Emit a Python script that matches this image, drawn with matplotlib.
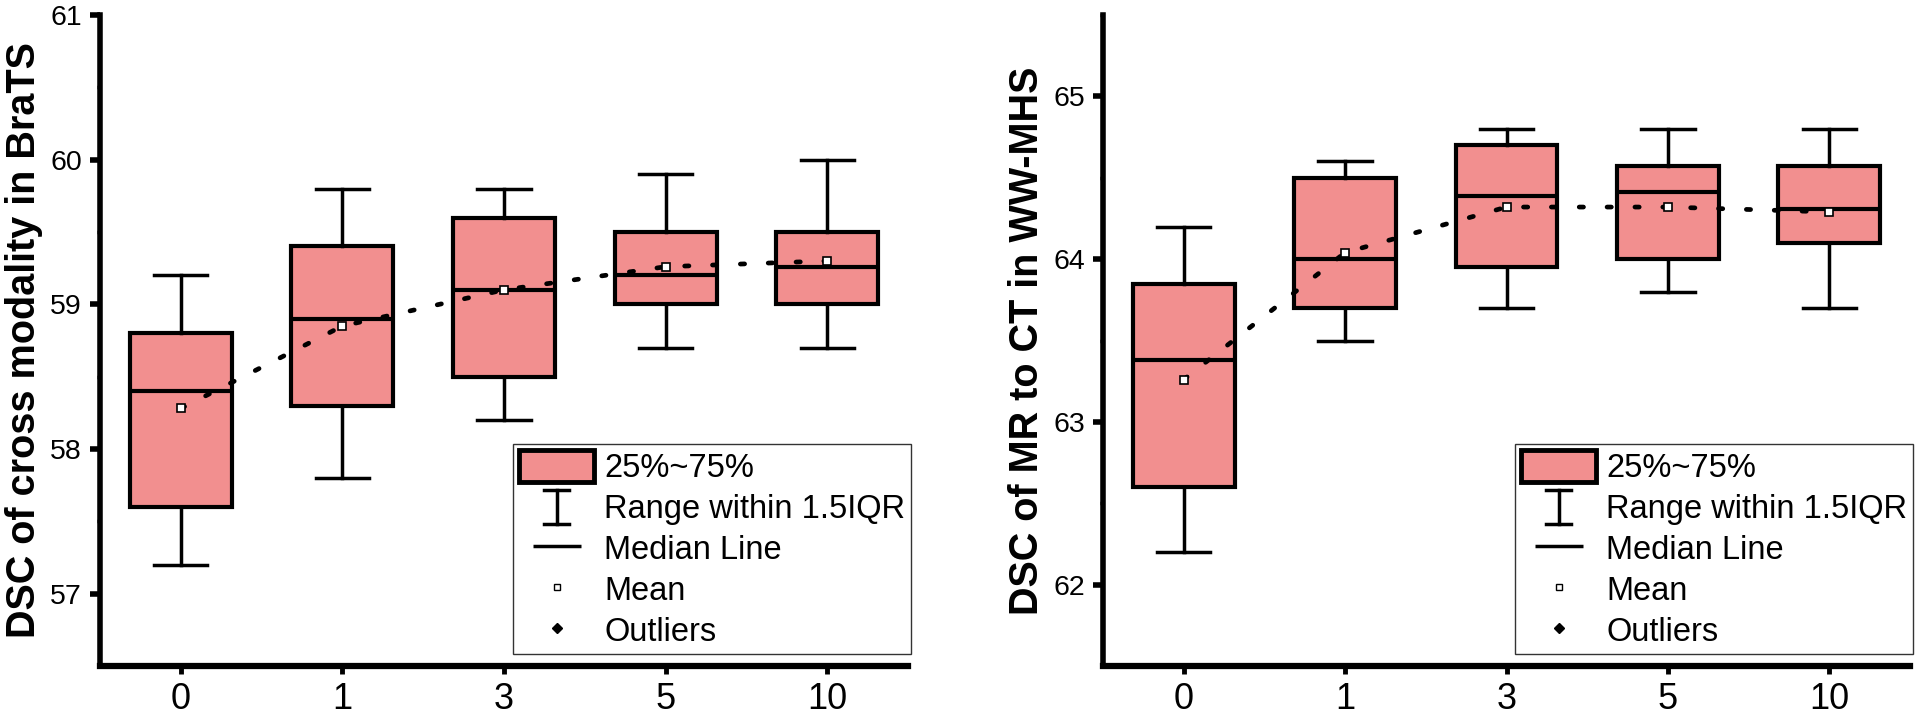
import numpy as np
import matplotlib
matplotlib.use("Agg")
import matplotlib.pyplot as plt
from matplotlib.patches import Patch
from matplotlib.lines import Line2D
from matplotlib.legend_handler import HandlerBase
from matplotlib.ticker import MultipleLocator

plt.rcParams["font.family"] = ["Liberation Sans", "DejaVu Sans"]

# categories (shared x axis)
labels = ["0", "1", "3", "5", "10"]

# left panel: BraTS cross modality
brats_lo = [57.2, 57.8, 58.2, 58.7, 58.7]
brats_q1 = [57.6, 58.3, 58.5, 59.0, 59.0]
brats_med = [58.4, 58.9, 59.1, 59.2, 59.26]
brats_q3 = [58.8, 59.4, 59.6, 59.5, 59.5]
brats_hi = [59.2, 59.8, 59.8, 59.9, 60.0]
brats_mean = [58.28, 58.85, 59.1, 59.26, 59.3]

# right panel: WW-MHS MR to CT
ww_lo = [62.2, 63.5, 63.7, 63.8, 63.7]
ww_q1 = [62.6, 63.7, 63.95, 64.0, 64.1]
ww_med = [63.38, 64.0, 64.39, 64.41, 64.31]
ww_q3 = [63.85, 64.5, 64.7, 64.57, 64.57]
ww_hi = [64.2, 64.6, 64.8, 64.8, 64.8]
ww_mean = [63.26, 64.04, 64.32, 64.32, 64.29]

FILL = "#F28F8F"


class IBeam:
    """Placeholder handle for the whisker range legend entry."""
    pass


class IBeamHandler(HandlerBase):
    def create_artists(self, legend, orig_handle, xdescent, ydescent,
                       width, height, fontsize, trans):
        cx = width / 2 - xdescent
        cy = height / 2 - ydescent
        hh, hw = 12.5, 9.0  # half height / half width in points
        segs = [([cx - hw, cx + hw], [cy + hh, cy + hh]),
                ([cx, cx], [cy - hh, cy + hh]),
                ([cx - hw, cx + hw], [cy - hh, cy - hh])]
        arts = []
        for xs, ys in segs:
            ln = Line2D(xs, ys, color="black", lw=2.5, transform=trans)
            arts.append(ln)
        return arts


def draw_panel(ax, lo, q1, med, q3, hi, mean, ylim, yticks, ylabel, anchor):
    x = np.arange(len(labels))
    stats = []
    for i in range(len(labels)):
        stats.append({"whislo": lo[i], "q1": q1[i], "med": med[i], "q3": q3[i],
                      "whishi": hi[i], "mean": mean[i], "fliers": []})

    ax.bxp(stats, positions=x, widths=0.63, capwidths=0.33, patch_artist=True,
           showmeans=True, showfliers=False, manage_ticks=False,
           boxprops=dict(facecolor=FILL, edgecolor="black", linewidth=3),
           whiskerprops=dict(color="black", linewidth=2.5),
           capprops=dict(color="black", linewidth=2.5),
           medianprops=dict(color="black", linewidth=3),
           meanprops=dict(marker="s", markerfacecolor="white", markeredgecolor="black",
                          markersize=5.5, markeredgewidth=1.2, zorder=4))

    # dotted line through the means
    ax.plot(x, mean, color="black", lw=3.4, linestyle=(0, (0.9, 5.0)),
            dash_capstyle="round", zorder=3)

    ax.set_xlim(-0.5, 4.5)
    ax.set_ylim(*ylim)
    ax.set_xticks(x)
    ax.set_xticklabels(labels)
    ax.set_yticks(yticks)
    ax.yaxis.set_minor_locator(MultipleLocator(0.5))

    for s in ["top", "right"]:
        ax.spines[s].set_visible(False)
    ax.spines["left"].set_linewidth(4)
    ax.spines["bottom"].set_linewidth(4.5)

    ax.tick_params(axis="y", which="major", direction="out", length=7, width=4,
                   labelsize=20.5, pad=6)
    ax.tick_params(axis="y", which="minor", direction="out", length=2.5, width=2.5)
    ax.tick_params(axis="x", which="major", direction="out", length=5.5, width=3.5,
                   labelsize=26, pad=6)

    ax.set_ylabel(ylabel, fontsize=28.5, fontweight="bold")
    ax.yaxis.set_label_coords(-0.071, 0.5)

    handles = [
        Patch(facecolor=FILL, edgecolor="black", linewidth=3.5),
        IBeam(),
        Line2D([], [], marker="_", markersize=35, markeredgewidth=2.5,
               color="black", linestyle="none"),
        Line2D([], [], marker="s", markerfacecolor="white", markeredgecolor="black",
               markersize=5, markeredgewidth=1, linestyle="none"),
        Line2D([], [], marker="D", color="black", markersize=5, linestyle="none"),
    ]
    names = ["25%~75%", "Range within 1.5IQR", "Median Line", "Mean", "Outliers"]
    leg = ax.legend(handles, names, loc="upper right", bbox_to_anchor=anchor,
                    bbox_transform=ax.figure.transFigure, borderaxespad=0,
                    handler_map={IBeam: IBeamHandler()},
                    fontsize=23.5, numpoints=1, handlelength=2.3, handleheight=1.12,
                    handletextpad=0.3, labelspacing=0.22, borderpad=0.18,
                    fancybox=False, framealpha=1, edgecolor="#333333")
    leg.get_frame().set_linewidth(1.0)


fig = plt.figure(figsize=(19.2, 7.16), dpi=100)
ax1 = fig.add_axes([100 / 1920, 50 / 716, 808 / 1920, 651 / 716])
ax2 = fig.add_axes([1103 / 1920, 50 / 716, 807 / 1920, 651 / 716])

draw_panel(ax1, brats_lo, brats_q1, brats_med, brats_q3, brats_hi, brats_mean,
           (56.5, 61), [57, 58, 59, 60, 61], "DSC of cross modality in BraTS",
           (911 / 1920, 1 - 444 / 716))
draw_panel(ax2, ww_lo, ww_q1, ww_med, ww_q3, ww_hi, ww_mean,
           (61.5, 65.5), [62, 63, 64, 65], "DSC of MR to CT in WW-MHS",
           (1913 / 1920, 1 - 444 / 716))

fig.savefig("out.png", dpi=100)
